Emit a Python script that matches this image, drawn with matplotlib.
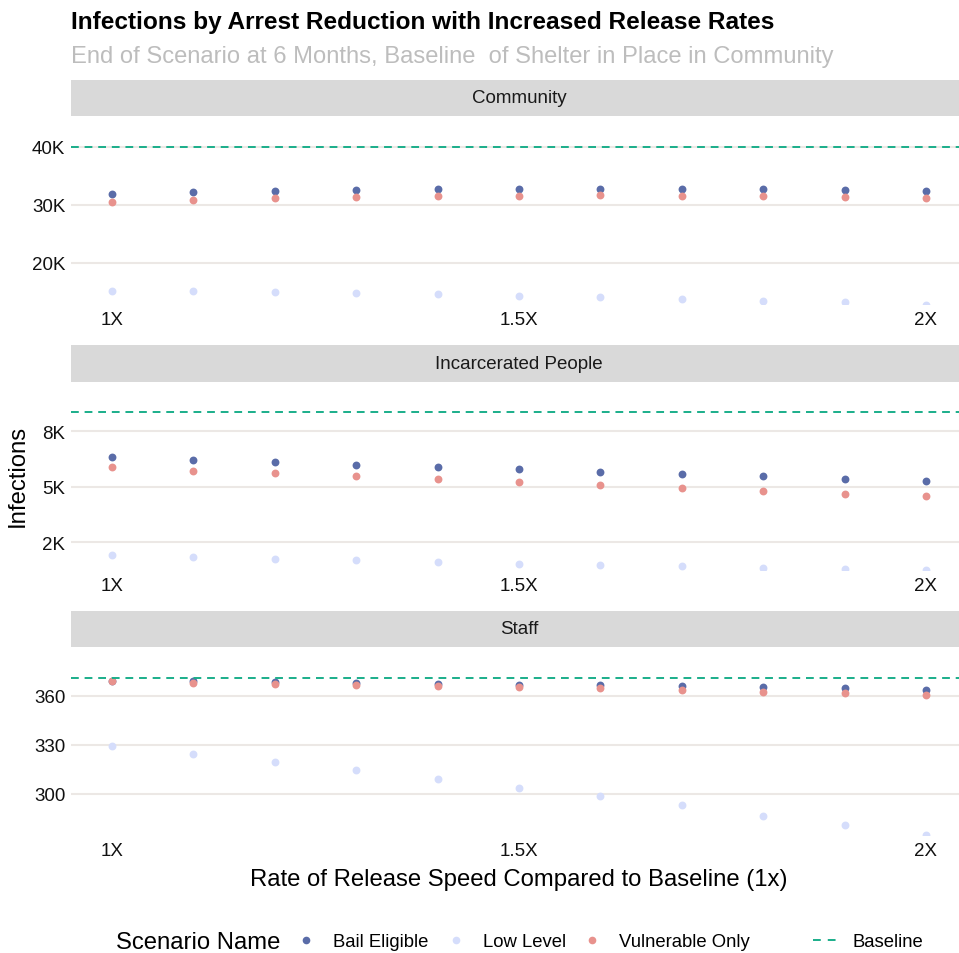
import numpy as np
import matplotlib.pyplot as plt
from matplotlib.lines import Line2D

plt.rcParams['font.family'] = ['Liberation Sans', 'DejaVu Sans']

# release speed multipliers (x axis)
release = [1.0, 1.1, 1.2, 1.3, 1.4, 1.5, 1.6, 1.7, 1.8, 1.9, 2.0]

# Community
community_bail = [31900, 32150, 32370, 32540, 32660, 32720, 32740, 32720, 32660, 32600, 32420]
community_low = [15070, 15010, 14900, 14720, 14550, 14290, 14030, 13770, 13390, 13080, 12730]
community_vul = [30520, 30810, 31100, 31330, 31500, 31590, 31620, 31590, 31560, 31380, 31210]

# Incarcerated People
incarc_bail = [6320, 6200, 6110, 5980, 5890, 5800, 5660, 5570, 5470, 5360, 5270]
incarc_low = [1920, 1830, 1760, 1690, 1610, 1540, 1470, 1430, 1360, 1310, 1250]
incarc_vul = [5870, 5720, 5600, 5470, 5330, 5210, 5080, 4940, 4820, 4690, 4570]

# Staff
staff_bail = [369.0, 368.7, 368.4, 367.8, 367.2, 366.8, 366.3, 365.7, 365.1, 364.5, 363.7]
staff_low = [329.2, 324.3, 319.4, 314.3, 309.0, 303.5, 298.3, 293.1, 286.6, 280.7, 274.7]
staff_vul = [368.8, 368.0, 367.3, 366.7, 366.1, 365.4, 364.6, 363.6, 362.4, 361.5, 360.4]

facets = ['Community', 'Incarcerated People', 'Staff']
baselines = [40000, 8350, 370.8]
y_ticks = [[20000, 30000, 40000], [2500, 5000, 7500], [300, 330, 360]]
y_labels = [['20K', '30K', '40K'], ['2K', '5K', '8K'], ['300', '330', '360']]
y_limits = [(12820, 45350), (1248, 9716), (274.7, 389.8)]
x_ticks = [1.0, 1.5, 2.0]
x_labels = ['1X', '1.5X', '2X']

scenarios = ['Bail Eligible', 'Low Level', 'Vulnerable Only']
colors = {'Bail Eligible': '#5a6ca8', 'Low Level': '#d5ddfb', 'Vulnerable Only': '#e8928d'}
series = [
    {'Bail Eligible': community_bail, 'Low Level': community_low, 'Vulnerable Only': community_vul},
    {'Bail Eligible': incarc_bail, 'Low Level': incarc_low, 'Vulnerable Only': incarc_vul},
    {'Bail Eligible': staff_bail, 'Low Level': staff_low, 'Vulnerable Only': staff_vul},
]
base_color = '#1aae8a'

W, H = 959, 954
fig = plt.figure(figsize=(W / 100, H / 100), dpi=100)

def frac(x0, y0, x1, y1):
    return [x0 / W, 1 - y1 / H, (x1 - x0) / W, (y1 - y0) / H]

# pixel boxes: (strip top, strip bottom, panel bottom)
boxes = [(80.5, 117, 305), (346, 383, 571), (612, 648, 836)]
left, right = 71, 967

for i, name in enumerate(facets):
    s_top, p_top, p_bot = boxes[i]
    strip = fig.add_axes(frac(left, s_top, right, p_top))
    strip.set_facecolor('#d9d9d9')
    strip.set_xticks([]); strip.set_yticks([])
    for sp in strip.spines.values():
        sp.set_visible(False)
    strip.text(0.5, 0.5, name, ha='center', va='center', fontsize=13.5, color='#1a1a1a',
               transform=strip.transAxes)

    ax = fig.add_axes(frac(left, p_top, right, p_bot))
    for sp in ax.spines.values():
        sp.set_visible(False)
    ax.set_xlim(0.9496, 2.0504)
    ax.set_ylim(*y_limits[i])
    ax.set_yticks(y_ticks[i])
    ax.set_yticklabels(y_labels[i])
    ax.set_xticks(x_ticks)
    ax.set_xticklabels(x_labels)
    ax.tick_params(length=0, labelsize=13.5, labelcolor='#111111')
    ax.tick_params(axis='x', pad=5)
    ax.tick_params(axis='y', pad=4)
    ax.grid(axis='y', color='#ece8e5', linewidth=1.5)
    ax.set_axisbelow(True)

    for sc in scenarios:
        ax.scatter(release, series[i][sc], s=32, color=colors[sc], linewidths=0, zorder=3)
    ax.axhline(baselines[i], color=base_color, linestyle=(0, (4, 3)), linewidth=1.4, zorder=4)

fig.text(71 / W, 1 - 29 / H, 'Infections by Arrest Reduction with Increased Release Rates',
         fontsize=17.6, fontweight='bold', ha='left', va='baseline')
fig.text(71 / W, 1 - 63 / H,
         'End of Scenario at 6 Months, Baseline  of Shelter in Place in Community',
         fontsize=17.1, color='#bdbdbd', ha='left', va='baseline')
fig.text(18 / W, 1 - 476 / H, 'Infections', rotation=90, fontsize=17.2, ha='center', va='center')
fig.text(519 / W, 1 - 880 / H, 'Rate of Release Speed Compared to Baseline (1x)',
         fontsize=17.2, ha='center', va='center')

# legend
leg_y = 1 - 943 / H
fig.text(116 / W, leg_y, 'Scenario Name', fontsize=17.2, ha='left', va='center')
for sc, x0 in zip(scenarios, [299, 449, 585]):
    h = Line2D([], [], linestyle='none', marker='o', markersize=5.5, markeredgewidth=0,
               color=colors[sc])
    fig.legend([h], [sc], loc='center left', bbox_to_anchor=(x0 / W, leg_y),
               frameon=False, fontsize=13.3, handlelength=0.8, handletextpad=1.06,
               borderpad=0, borderaxespad=0)
base_handle = Line2D([], [], color=base_color, linestyle=(0, (4, 3.6)), linewidth=1.4)
fig.legend([base_handle], ['Baseline'], loc='center left', bbox_to_anchor=(813 / W, leg_y),
           frameon=False, fontsize=13.3, handlelength=1.25, handletextpad=0.87,
           borderpad=0, borderaxespad=0)

fig.savefig('out.png', dpi=100)
